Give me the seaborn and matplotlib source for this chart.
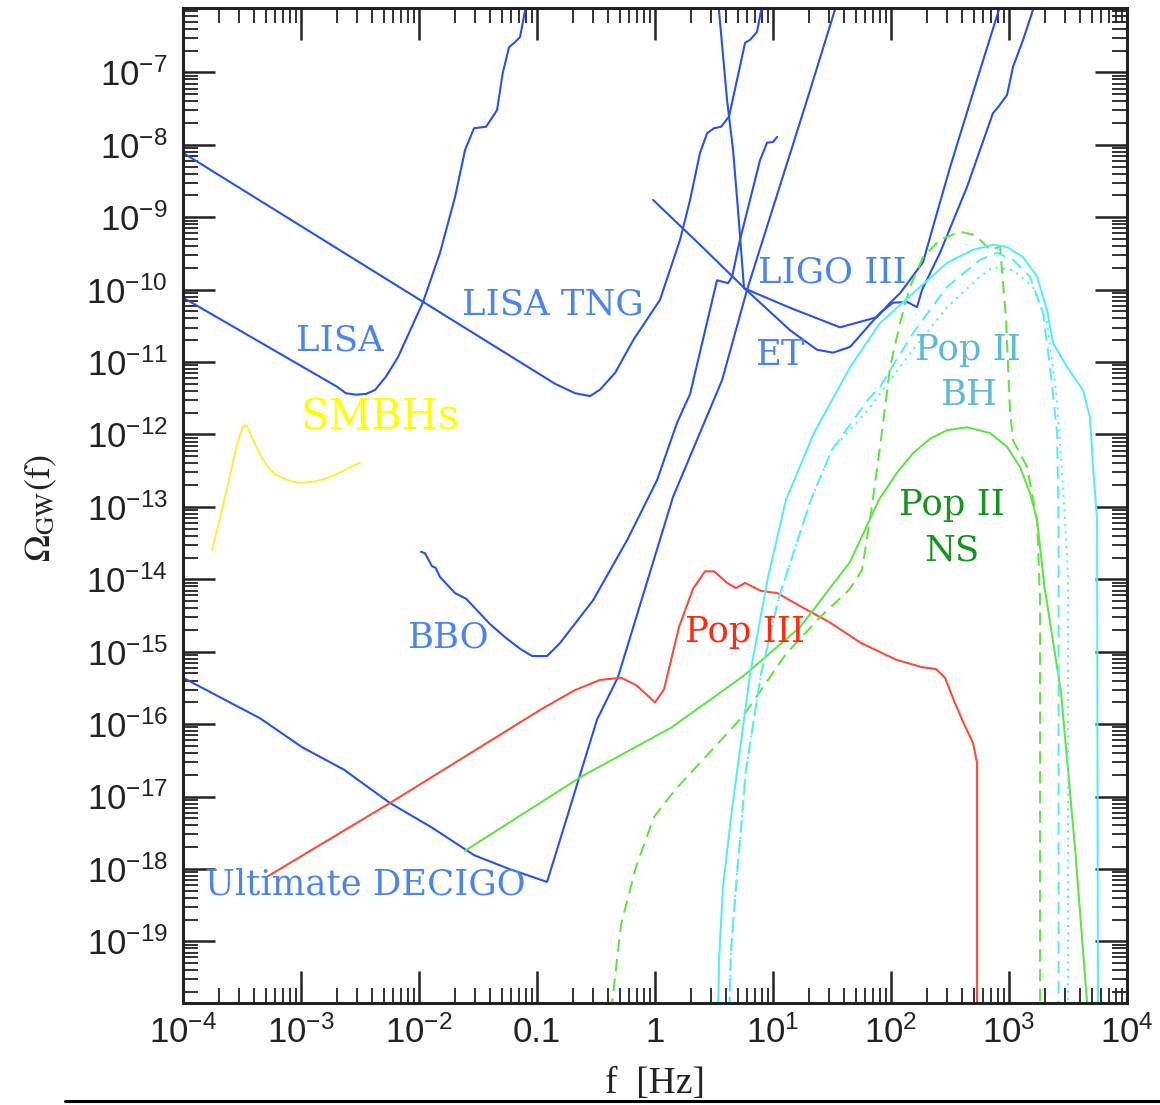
"""
Gravitational-wave background vs detector sensitivity curves
"""

import numpy as np
import matplotlib
matplotlib.use("Agg")
import matplotlib.pyplot as plt
from matplotlib.ticker import FixedLocator, FixedFormatter, LogLocator, NullFormatter
from matplotlib.lines import Line2D
import seaborn as sns

sns.set_style("ticks")
plt.rcParams['font.family'] = ['Liberation Sans', 'DejaVu Sans']
plt.rcParams['mathtext.fontset'] = 'custom'
plt.rcParams['mathtext.rm'] = 'Liberation Sans'
plt.rcParams['mathtext.it'] = 'Liberation Sans:italic'
plt.rcParams['mathtext.bf'] = 'Liberation Sans:bold'

# all values are log10(f / Hz) and log10(Omega_GW)
lisa_f = [-4.0, -2.695, -2.62, -2.534, -2.45, -2.373, -2.28, -2.178, -1.966, -1.822, -1.695,
          -1.61, -1.534, -1.432, -1.339, -1.29, -1.237, -1.186, -1.144, -1.085]
lisa_om = [-10.11, -11.34, -11.43, -11.45, -11.44, -11.385, -11.20, -10.93, -10.17, -9.49, -8.72,
           -8.07, -7.77, -7.75, -7.52, -7.00, -6.65, -6.58, -6.51, -6.0]

tng_f = [-4.0, -0.847, -0.678, -0.551, -0.466, -0.339, -0.186, 0.042, 0.212, 0.297,
         0.381, 0.441, 0.5, 0.559, 0.627, 0.763, 0.805, 0.864, 0.915]
tng_om = [-8.11, -11.30, -11.43, -11.47, -11.38, -11.15, -10.70, -10.14, -9.31, -8.76,
          -8.11, -7.84, -7.77, -7.75, -7.61, -6.59, -6.55, -6.44, -6.0]

ligo_f = [0.534, 0.610, 0.661, 0.703, 0.754, 1.144, 1.568, 1.881, 1.992, 2.076,
          2.271, 2.356, 2.5, 2.729, 2.94]
ligo_om = [-6.0, -7.38, -8.07, -8.90, -9.98, -10.25, -10.52, -10.38, -10.18, -10.05,
           -9.62, -9.13, -8.31, -7.10, -6.0]

et_f = [-0.017, 0.381, 0.771, 1.144, 1.373, 1.508, 1.653, 1.907, 2.017, 2.136, 2.22,
        2.263, 2.415, 2.644, 2.864, 2.907, 2.983, 3.034, 3.119, 3.23]
et_om = [-8.76, -9.38, -10.0, -10.56, -10.83, -10.87, -10.79, -10.32, -10.18, -10.17, -10.24,
         -10.0, -9.49, -8.58, -7.56, -7.48, -7.31, -6.92, -6.55, -6.0]

bbo_f = [-1.983, -1.95, -1.89, -1.86, -1.822, -1.695, -1.60, -1.525, -1.398, -1.271, -1.144,
         -1.042, -0.915, -0.805, -0.525, -0.237, 0.017, 0.186, 0.297, 0.525, 0.619, 0.653,
         0.720, 0.89, 0.949, 1.0, 1.034]
bbo_om = [-13.62, -13.64, -13.82, -13.84, -13.97, -14.19, -14.27, -14.40, -14.62, -14.80, -14.96,
          -15.06, -15.06, -14.88, -14.29, -13.46, -12.63, -11.84, -11.44, -9.87, -9.91, -9.82,
          -9.31, -8.21, -7.97, -7.96, -7.89]

decigo_f = [-4.0, -3.347, -2.99, -2.636, -2.246, -1.89, -1.534, -1.237, -0.915, -0.492,
            -0.314, 0.153, 0.568, 0.78, 1.288, 1.55]
decigo_om = [-15.36, -15.92, -16.32, -16.63, -17.09, -17.43, -17.81, -18.0, -18.18, -15.94,
             -15.35, -12.86, -11.25, -10.0, -7.38, -6.0]

smbh_f = [-3.754, -3.669, -3.61, -3.55, -3.50, -3.475, -3.45, -3.40, -3.347, -3.28, -3.22,
          -3.10, -3.008, -2.88, -2.754, -2.5]
smbh_om = [-13.60, -13.04, -12.62, -12.18, -11.92, -11.87, -11.91, -12.10, -12.28, -12.45, -12.55,
           -12.64, -12.67, -12.65, -12.59, -12.39]

pop3_f = [-3.28, -2.246, -0.949, -0.678, -0.466, -0.288, -0.161, 0.0, 0.076, 0.203,
          0.322, 0.424, 0.5, 0.61, 0.686, 0.763, 0.898, 1.034, 1.229, 1.475,
          1.746, 2.042, 2.254, 2.381, 2.458, 2.534, 2.619, 2.695, 2.729, 2.729]
pop3_om = [-18.10, -17.09, -15.78, -15.53, -15.39, -15.36, -15.46, -15.70, -15.52, -14.66,
           -14.13, -13.89, -13.89, -14.05, -14.12, -14.05, -14.16, -14.19, -14.37, -14.59,
           -14.88, -15.11, -15.21, -15.24, -15.36, -15.68, -16.0, -16.26, -16.54, -20.5]

ns_f = [-1.61, -0.619, 0.136, 0.746, 1.229, 1.653, 1.898, 2.05, 2.186, 2.33, 2.475, 2.644,
        2.839, 2.983, 3.093, 3.178, 3.237, 3.30, 3.441, 3.559, 3.661, 3.70]
ns_om = [-17.75, -16.72, -16.05, -15.34, -14.66, -13.76, -12.90, -12.53, -12.26, -12.06, -11.94, -11.90,
         -11.98, -12.17, -12.45, -12.81, -13.18, -14.1, -15.57, -17.71, -19.84, -20.5]

ns_dash_f = [-0.41, -0.288, -0.161, -0.008, 0.169, 0.441, 0.746, 1.11, 1.407, 1.653,
             1.754, 1.831, 1.907, 1.992, 2.076, 2.161, 2.271, 2.415, 2.585, 2.695,
             2.754, 2.839, 2.924, 2.975, 3.008, 3.034, 3.153, 3.237, 3.263, 3.263]
ns_dash_om = [-20.5, -18.77, -17.97, -17.28, -16.91, -16.43, -15.89, -15.03, -14.51, -14.13,
              -13.87, -13.07, -12.17, -11.07, -10.46, -9.96, -9.55, -9.31, -9.20, -9.24,
              -9.31, -9.45, -9.41, -10.42, -11.66, -12.08, -12.45, -13.18, -14.29, -20.5]

bh_f = [0.53, 0.542, 0.576, 0.653, 0.805, 0.958, 1.110, 1.347, 1.653, 1.907, 2.186,
        2.475, 2.695, 2.864, 2.983, 3.119, 3.237, 3.322, 3.373, 3.492, 3.627, 3.686,
        3.712, 3.746, 3.754]
bh_om = [-20.5, -19.26, -18.24, -17.17, -15.31, -13.97, -12.90, -11.98, -11.07, -10.46, -10.05,
         -9.63, -9.45, -9.38, -9.41, -9.55, -9.82, -10.28, -10.74, -11.07, -11.39, -11.76,
         -12.45, -13.18, -20.5]

bh_dash_f = [0.62, 0.644, 0.686, 0.771, 0.898, 1.051, 1.322, 1.5, 1.805, 1.907, 2.186,
             2.475, 2.754, 2.898, 3.034, 3.178, 3.288, 3.347, 3.407, 3.42, 3.42]
bh_dash_om = [-20.5, -19.12, -18.24, -16.63, -15.31, -14.24, -12.90, -12.21, -11.52, -11.34, -10.60,
              -9.96, -9.59, -9.49, -9.59, -9.82, -10.32, -11.07, -11.98, -13.18, -20.5]

bh_dot_f = [0.62, 0.644, 0.686, 0.771, 0.898, 1.051, 1.322, 1.5, 1.805, 2.186, 2.475,
            2.754, 2.864, 3.034, 3.203, 3.322, 3.407, 3.475, 3.50, 3.50]
bh_dot_om = [-20.5, -19.12, -18.24, -16.63, -15.31, -14.24, -12.90, -12.21, -11.66, -10.83, -10.24,
             -9.82, -9.69, -9.73, -9.96, -10.46, -11.52, -13.18, -14.0, -20.5]

BLUE = "#2552ee"
BLUE_TXT = "#4a84f2"
curves = [
    (lisa_f, lisa_om, BLUE, "-"),
    (tng_f, tng_om, BLUE, "-"),
    (ligo_f, ligo_om, BLUE, "-"),
    (et_f, et_om, BLUE, "-"),
    (bbo_f, bbo_om, BLUE, "-"),
    (decigo_f, decigo_om, BLUE, "-"),
    (smbh_f, smbh_om, "#f8f048", "-"),
    (pop3_f, pop3_om, "#ff4a38", "-"),
    (ns_f, ns_om, "#62e446", "-"),
    (ns_dash_f, ns_dash_om, "#62e446", (0, (6, 3.5))),
    (bh_f, bh_om, "#58ecfb", "-"),
    (bh_dash_f, bh_dash_om, "#58ecfb", (0, (6, 3.5))),
    (bh_dot_f, bh_dot_om, "#58ecfb", (0, (1, 2.5))),
]

fig = plt.figure(figsize=(11.6, 11.05), dpi=100)
ax = fig.add_axes([0.1578, 0.0923, 0.8138, 0.9005])

for f, om, color, ls in curves:
    sns.lineplot(x=10.0 ** np.array(f), y=10.0 ** np.array(om), ax=ax, color=color,
                 linestyle=ls, lw=1.5, sort=False, estimator=None)

ax.set_xscale("log")
ax.set_yscale("log")
ax.set_xlim(1e-4, 1e4)
ax.set_ylim(10 ** -19.852, 10 ** -6.109)
ax.set_xlabel("")
ax.set_ylabel("")

# ticks
xt = 10.0 ** np.arange(-4, 5)
xl = [r"$10^{-4}$", r"$10^{-3}$", r"$10^{-2}$", "0.1", "1",
      r"$10^{1}$", r"$10^{2}$", r"$10^{3}$", r"$10^{4}$"]
yt = 10.0 ** np.arange(-19, -6)
yl = [r"$10^{%d}$" % e for e in range(-19, -6)]
ax.xaxis.set_major_locator(FixedLocator(xt))
ax.xaxis.set_major_formatter(FixedFormatter(xl))
ax.yaxis.set_major_locator(FixedLocator(yt))
ax.yaxis.set_major_formatter(FixedFormatter(yl))
ax.xaxis.set_minor_locator(LogLocator(base=10, subs=np.arange(2, 10), numticks=200))
ax.yaxis.set_minor_locator(LogLocator(base=10, subs=np.arange(2, 10), numticks=200))
ax.xaxis.set_minor_formatter(NullFormatter())
ax.yaxis.set_minor_formatter(NullFormatter())
ax.tick_params(which="both", direction="in", top=True, right=True, colors="#222222")
ax.tick_params(which="major", length=23, width=1.8, labelsize=25)
ax.tick_params(which="minor", length=11, width=1.3)
ax.tick_params(axis="x", which="major", pad=9)
ax.tick_params(axis="y", which="major", pad=11)
for sp in ax.spines.values():
    sp.set_linewidth(2.2)
    sp.set_color("#222222")

# curve labels
lab = dict(ha="center", va="center", fontsize=25.5, family="DejaVu Serif")
ax.text(10 ** -2.669, 10 ** -10.695, "LISA", color=BLUE_TXT, **lab)
ax.text(10 ** -0.864, 10 ** -10.21, "LISA TNG", color=BLUE_TXT, **lab)
ax.text(10 ** 1.5, 10 ** -9.76, "LIGO III", color=BLUE_TXT, **lab)
ax.text(10 ** 1.059, 10 ** -10.90, "ET", color=BLUE_TXT, **lab)
ax.text(10 ** -1.754, 10 ** -14.80, "BBO", color=BLUE_TXT, **lab)
ax.text(10 ** -2.458, 10 ** -18.22, "Ultimate DECIGO", color=BLUE_TXT, **lab)
ax.text(10 ** -2.331, 10 ** -11.77, "SMBHs", color="#ffff00",
        **{**lab, "fontsize": 30})
ax.text(10 ** 2.653, 10 ** -10.83, "Pop II", color="#5bbad4", **lab)
ax.text(10 ** 2.653, 10 ** -11.45, "BH", color="#5bbad4", **lab)
ax.text(10 ** 2.517, 10 ** -12.97, "Pop II", color="#14951c", **lab)
ax.text(10 ** 2.517, 10 ** -13.60, "NS", color="#14951c", **lab)
ax.text(10 ** 0.763, 10 ** -14.73, "Pop III", color="#ff2a0a", **lab)

# axis titles
fig.text(0.036, 0.54, r"$\Omega_{\rm GW}({\rm f})$", rotation=90, ha="center", va="center",
         fontsize=26, math_fontfamily="stix", color="#222222")
fig.text(0.5647, 0.019, "f  [Hz]", ha="center", va="center", fontsize=27,
         family="Liberation Serif", color="#222222")

# slide rule under the chart
fig.add_artist(Line2D([65 / 1160, 1.0], [1 - 1101 / 1105] * 2, color="black", lw=2.2))

fig.savefig("out.png", dpi=100)
